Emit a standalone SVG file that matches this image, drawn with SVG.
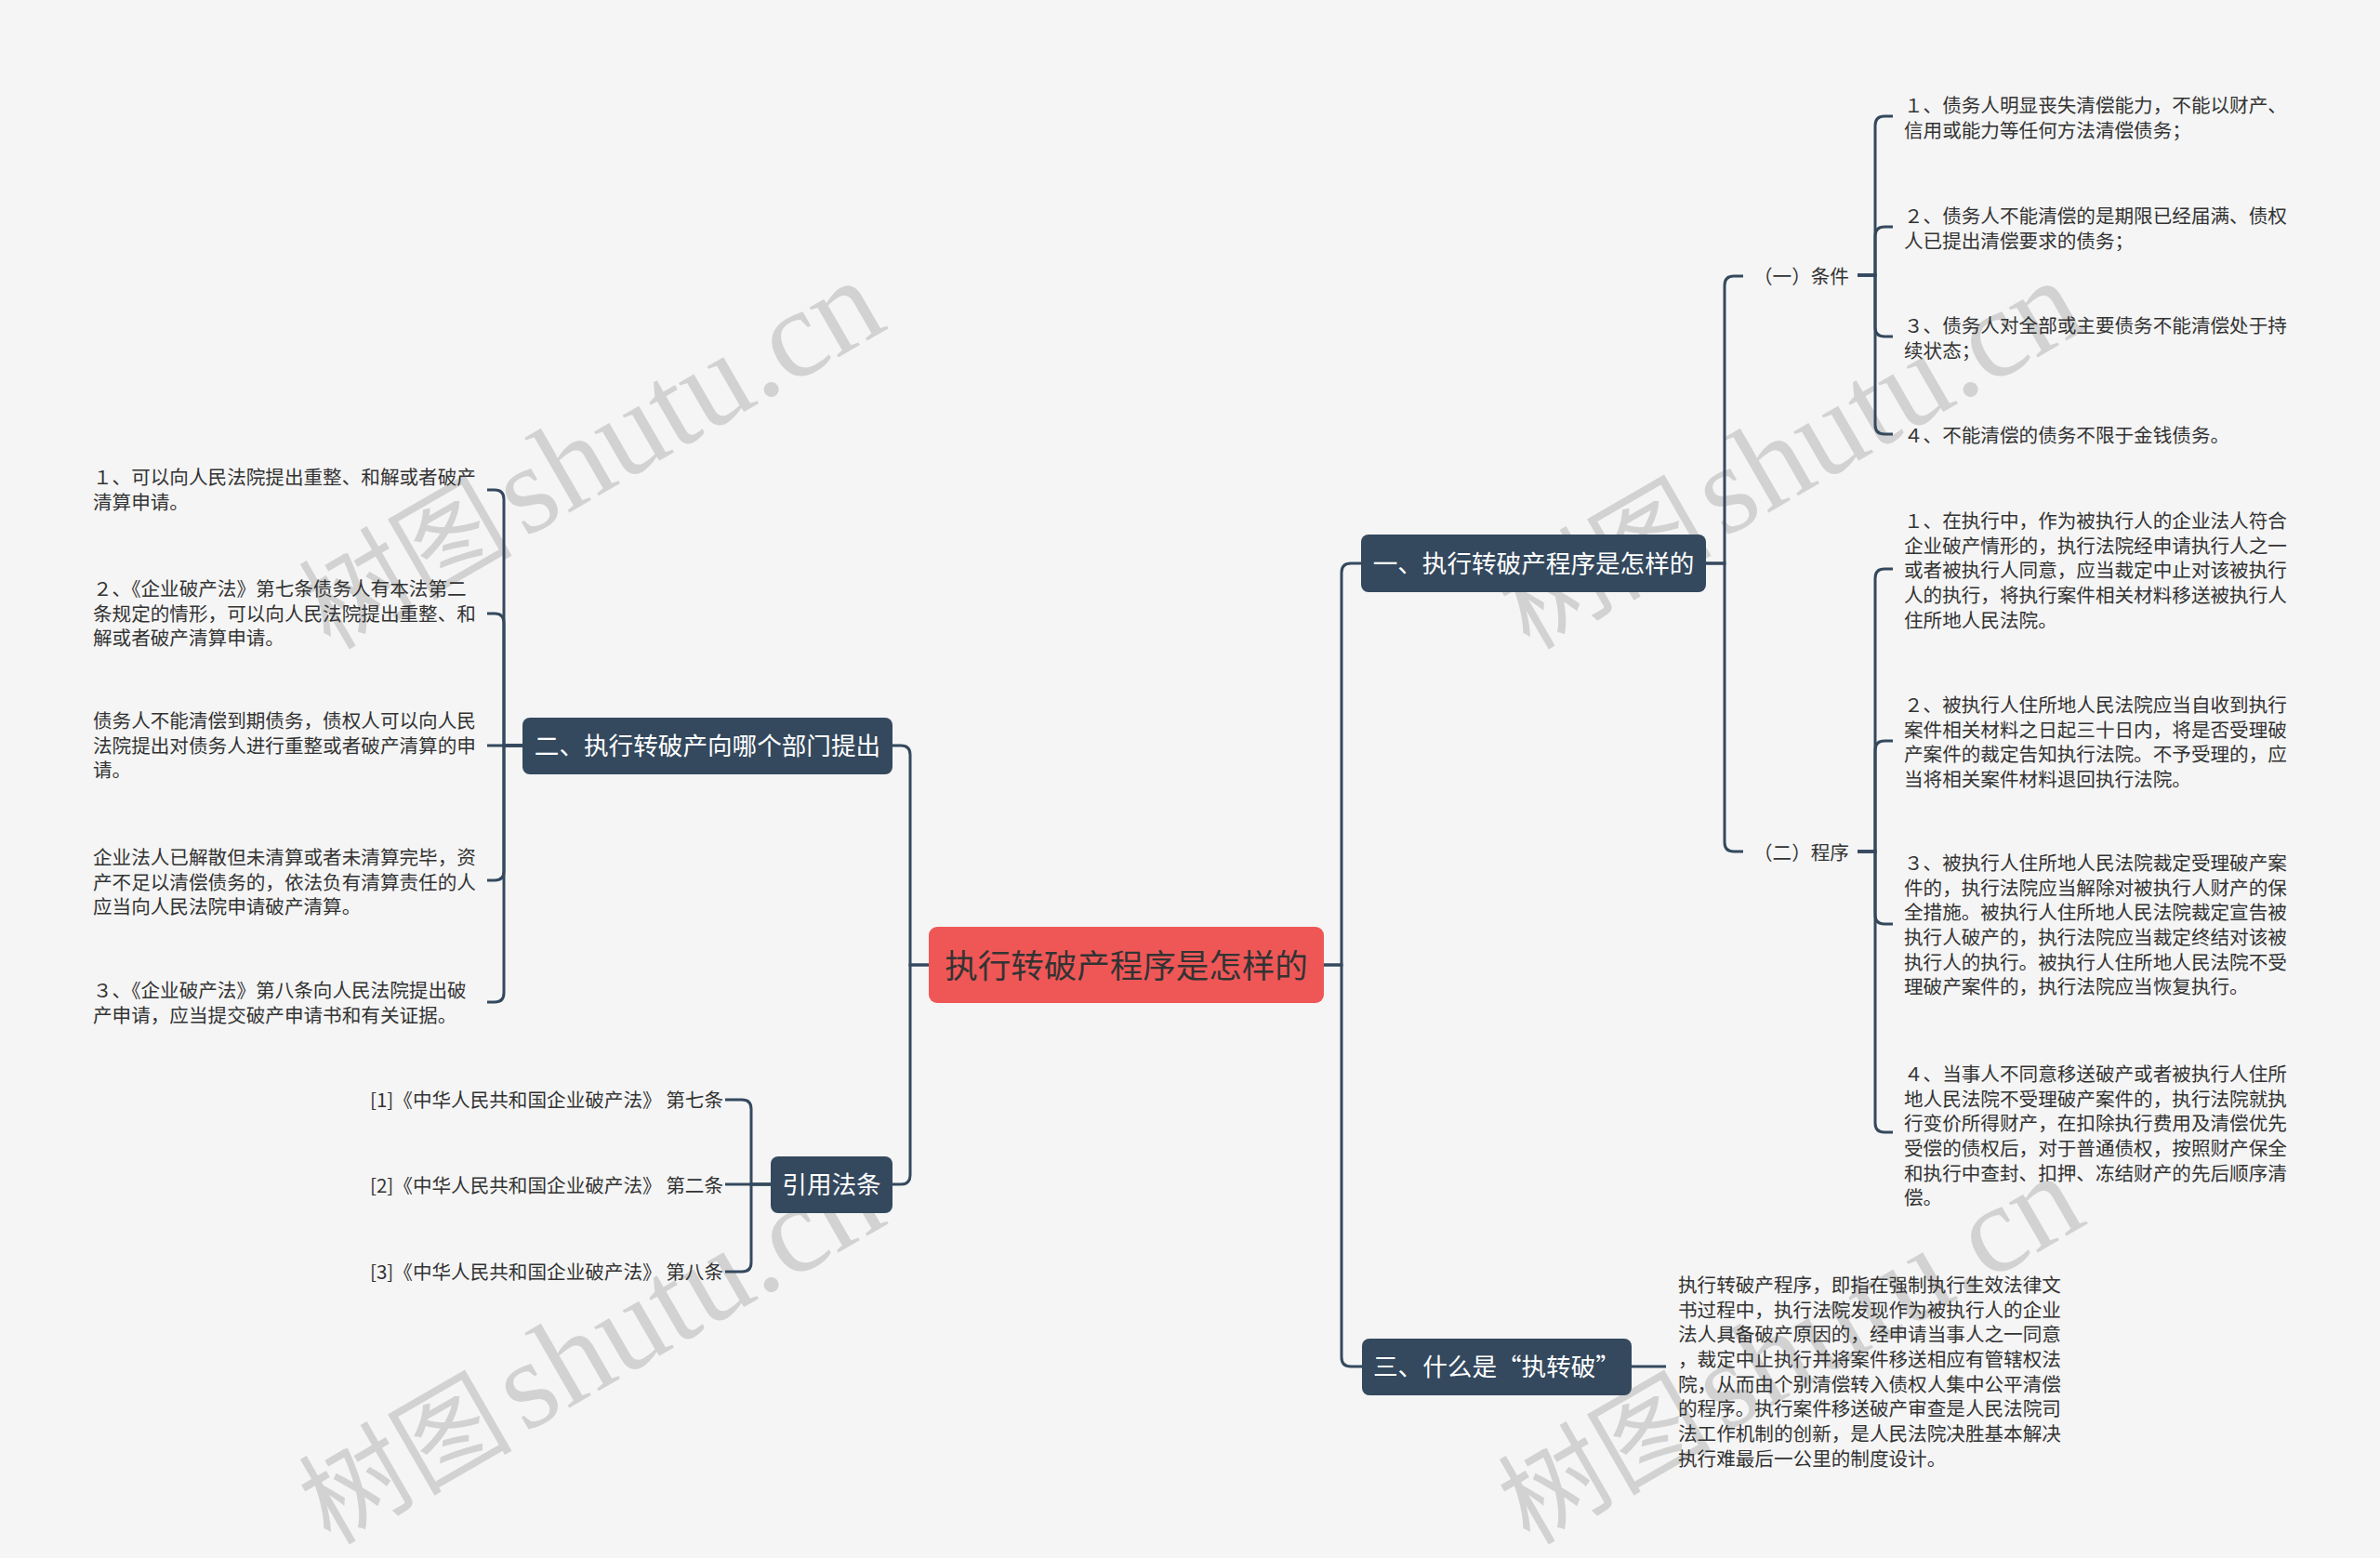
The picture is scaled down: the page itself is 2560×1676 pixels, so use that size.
<svg xmlns="http://www.w3.org/2000/svg" width="2560" height="1676" viewBox="0 0 2560 1676">
<style>
.bg{fill:#f5f5f5}
.conn path{fill:none;stroke:#34495e;stroke-width:3}
.dn{fill:#34495e}
.nt{fill:#ffffff;font-family:"Noto Sans CJK SC","Noto Sans",sans-serif;font-size:26.6px;text-anchor:middle}
.ct{fill:#333333;font-family:"Noto Sans CJK SC","Noto Sans",sans-serif;font-size:35.5px;text-anchor:middle}
.lf{fill:#333333;font-family:"Noto Sans CJK SC","Noto Sans",sans-serif;font-size:20.6px}
.wm{fill:#d2d2d2}
.wmc{font-family:"Noto Sans CJK SC",sans-serif;font-size:115px}
.wml{font-family:"Liberation Serif",serif;font-size:135px}
</style>
<rect class="bg" x="0" y="0" width="2560" height="1676"/>
<g id="watermarks" class="wm">
<text transform="translate(355,700) rotate(-30)"><tspan class="wmc">树图</tspan><tspan class="wml" dx="12">shutu.cn</tspan></text>
<text transform="translate(1645,700) rotate(-30)"><tspan class="wmc">树图</tspan><tspan class="wml" dx="12">shutu.cn</tspan></text>
<text transform="translate(355,1663) rotate(-30)"><tspan class="wmc">树图</tspan><tspan class="wml" dx="12">shutu.cn</tspan></text>
<text transform="translate(1645,1663) rotate(-30)"><tspan class="wmc">树图</tspan><tspan class="wml" dx="12">shutu.cn</tspan></text>
</g>
<g id="connectors" class="conn">
<path d="M999 1038H979V812Q979 802 969 802H960"/>
<path d="M999 1038H979V1264Q979 1274 969 1274H960"/>
<path d="M1424 1038H1443V616Q1443 606 1453 606H1464"/>
<path d="M1424 1038H1443V1460Q1443 1470 1453 1470H1465"/>
<path d="M1835 606H1855V307Q1855 297 1865 297H1875"/>
<path d="M1835 606H1855V906Q1855 916 1865 916H1875"/>
<path d="M1998 296H2017V135Q2017 125 2027 125H2036"/>
<path d="M1998 296H2017V254Q2017 244 2027 244H2036"/>
<path d="M1998 296H2017V352Q2017 362 2027 362H2036"/>
<path d="M1998 296H2017V457Q2017 467 2027 467H2036"/>
<path d="M1998 916H2017V622Q2017 612 2027 612H2036"/>
<path d="M1998 916H2017V807Q2017 797 2027 797H2036"/>
<path d="M1998 916H2017V984Q2017 994 2027 994H2036"/>
<path d="M1998 916H2017V1208Q2017 1218 2027 1218H2036"/>
<path d="M1755 1470H1792"/>
<path d="M562 802H542V537Q542 527 532 527H524"/>
<path d="M562 802H542V670Q542 660 532 660H524"/>
<path d="M562 802H524"/>
<path d="M562 802H542V937Q542 947 532 947H524"/>
<path d="M562 802H542V1068Q542 1078 532 1078H524"/>
<path d="M829 1274H808V1193Q808 1183 798 1183H780"/>
<path d="M829 1274H780"/>
<path d="M829 1274H808V1358Q808 1368 798 1368H780"/>
</g>
<g id="center">
<rect x="999" y="997" width="425" height="82" rx="9" fill="#ef5757"/>
<text class="ct" x="1211.5" y="1051.5">执行转破产程序是怎样的</text>
</g>
<g id="n1">
<rect class="dn" x="1464" y="575" width="371" height="62" rx="8"/>
<text class="nt" x="1649.5" y="616">一、执行转破产程序是怎样的</text>
</g>
<g id="n2">
<rect class="dn" x="562" y="772" width="398" height="61" rx="8"/>
<text class="nt" x="761" y="812">二、执行转破产向哪个部门提出</text>
</g>
<g id="n3">
<rect class="dn" x="1465" y="1440" width="290" height="61" rx="8"/>
<text class="nt" x="1610" y="1480">三、什么是“执转破”</text>
</g>
<g id="n4">
<rect class="dn" x="829" y="1244" width="131" height="61" rx="8"/>
<text class="nt" x="894.5" y="1284">引用法条</text>
</g>
<g id="l-cond">
<text class="lf" x="1886" y="305">（一）条件</text>
</g>
<g id="l-proc">
<text class="lf" x="1886" y="925">（二）程序</text>
</g>
<g id="c1"><text class="lf" x="2048" y="121"><tspan x="2048">１、债务人明显丧失清偿能力，不能以财产、</tspan><tspan x="2048" dy="26.67">信用或能力等任何方法清偿债务；</tspan></text></g>
<g id="c2"><text class="lf" x="2048" y="240"><tspan x="2048">２、债务人不能清偿的是期限已经届满、债权</tspan><tspan x="2048" dy="26.67">人已提出清偿要求的债务；</tspan></text></g>
<g id="c3"><text class="lf" x="2048" y="358"><tspan x="2048">３、债务人对全部或主要债务不能清偿处于持</tspan><tspan x="2048" dy="26.67">续状态；</tspan></text></g>
<g id="c4"><text class="lf" x="2048" y="476">４、不能清偿的债务不限于金钱债务。</text></g>
<g id="p1"><text class="lf" x="2048" y="568"><tspan x="2048">１、在执行中，作为被执行人的企业法人符合</tspan><tspan x="2048" dy="26.67">企业破产情形的，执行法院经申请执行人之一</tspan><tspan x="2048" dy="26.67">或者被执行人同意，应当裁定中止对该被执行</tspan><tspan x="2048" dy="26.67">人的执行，将执行案件相关材料移送被执行人</tspan><tspan x="2048" dy="26.67">住所地人民法院。</tspan></text></g>
<g id="p2"><text class="lf" x="2048" y="766"><tspan x="2048">２、被执行人住所地人民法院应当自收到执行</tspan><tspan x="2048" dy="26.67">案件相关材料之日起三十日内，将是否受理破</tspan><tspan x="2048" dy="26.67">产案件的裁定告知执行法院。不予受理的，应</tspan><tspan x="2048" dy="26.67">当将相关案件材料退回执行法院。</tspan></text></g>
<g id="p3"><text class="lf" x="2048" y="936"><tspan x="2048">３、被执行人住所地人民法院裁定受理破产案</tspan><tspan x="2048" dy="26.67">件的，执行法院应当解除对被执行人财产的保</tspan><tspan x="2048" dy="26.67">全措施。被执行人住所地人民法院裁定宣告被</tspan><tspan x="2048" dy="26.67">执行人破产的，执行法院应当裁定终结对该被</tspan><tspan x="2048" dy="26.67">执行人的执行。被执行人住所地人民法院不受</tspan><tspan x="2048" dy="26.67">理破产案件的，执行法院应当恢复执行。</tspan></text></g>
<g id="p4"><text class="lf" x="2048" y="1163"><tspan x="2048">４、当事人不同意移送破产或者被执行人住所</tspan><tspan x="2048" dy="26.67">地人民法院不受理破产案件的，执行法院就执</tspan><tspan x="2048" dy="26.67">行变价所得财产，在扣除执行费用及清偿优先</tspan><tspan x="2048" dy="26.67">受偿的债权后，对于普通债权，按照财产保全</tspan><tspan x="2048" dy="26.67">和执行中查封、扣押、冻结财产的先后顺序清</tspan><tspan x="2048" dy="26.67">偿。</tspan></text></g>
<g id="t3"><text class="lf" x="1805" y="1390"><tspan x="1805">执行转破产程序，即指在强制执行生效法律文</tspan><tspan x="1805" dy="26.67">书过程中，执行法院发现作为被执行人的企业</tspan><tspan x="1805" dy="26.67">法人具备破产原因的，经申请当事人之一同意</tspan><tspan x="1805" dy="26.67">，裁定中止执行并将案件移送相应有管辖权法</tspan><tspan x="1805" dy="26.67">院，从而由个别清偿转入债权人集中公平清偿</tspan><tspan x="1805" dy="26.67">的程序。执行案件移送破产审查是人民法院司</tspan><tspan x="1805" dy="26.67">法工作机制的创新，是人民法院决胜基本解决</tspan><tspan x="1805" dy="26.67">执行难最后一公里的制度设计。</tspan></text></g>
<g id="d1"><text class="lf" x="100" y="521"><tspan x="100">１、可以向人民法院提出重整、和解或者破产</tspan><tspan x="100" dy="26.67">清算申请。</tspan></text></g>
<g id="d2"><text class="lf" x="100" y="641"><tspan x="100">２、《企业破产法》第七条债务人有本法第二</tspan><tspan x="100" dy="26.67">条规定的情形，可以向人民法院提出重整、和</tspan><tspan x="100" dy="26.67">解或者破产清算申请。</tspan></text></g>
<g id="d3"><text class="lf" x="100" y="783"><tspan x="100">债务人不能清偿到期债务，债权人可以向人民</tspan><tspan x="100" dy="26.67">法院提出对债务人进行重整或者破产清算的申</tspan><tspan x="100" dy="26.67">请。</tspan></text></g>
<g id="d4"><text class="lf" x="100" y="930"><tspan x="100">企业法人已解散但未清算或者未清算完毕，资</tspan><tspan x="100" dy="26.67">产不足以清偿债务的，依法负有清算责任的人</tspan><tspan x="100" dy="26.67">应当向人民法院申请破产清算。</tspan></text></g>
<g id="d5"><text class="lf" x="100" y="1073"><tspan x="100">３、《企业破产法》第八条向人民法院提出破</tspan><tspan x="100" dy="26.67">产申请，应当提交破产申请书和有关证据。</tspan></text></g>
<g id="r1"><text class="lf" x="778" y="1191" text-anchor="end">[1]《中华人民共和国企业破产法》 第七条</text></g>
<g id="r2"><text class="lf" x="778" y="1283" text-anchor="end">[2]《中华人民共和国企业破产法》 第二条</text></g>
<g id="r3"><text class="lf" x="778" y="1376" text-anchor="end">[3]《中华人民共和国企业破产法》 第八条</text></g>
</svg>
